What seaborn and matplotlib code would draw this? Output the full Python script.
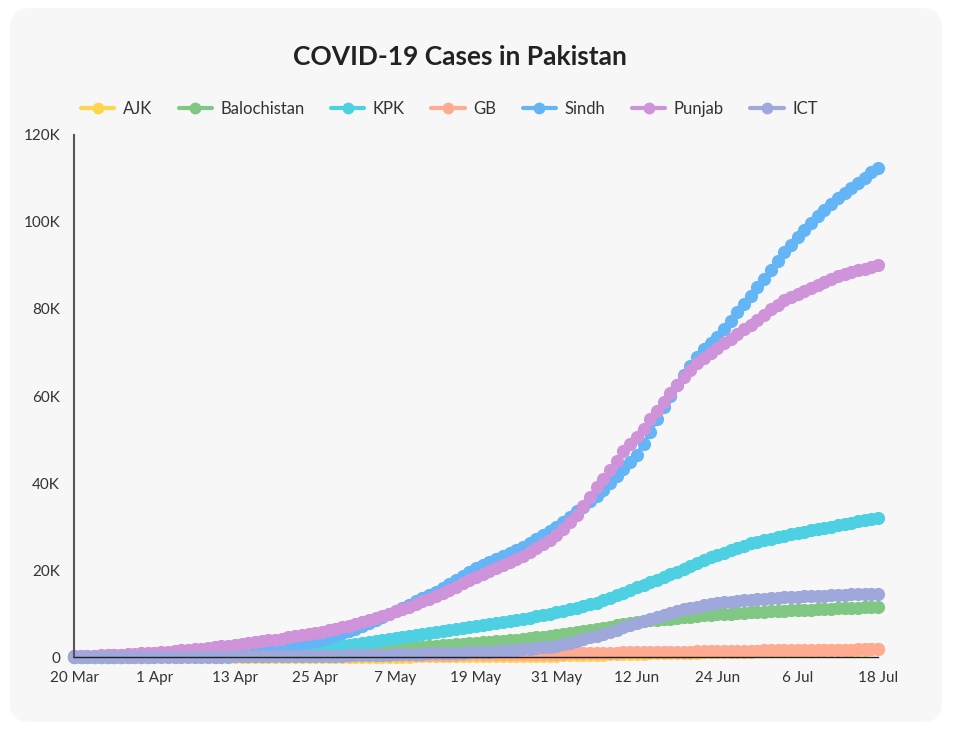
import matplotlib
matplotlib.use("Agg")
import matplotlib.pyplot as plt
import matplotlib.dates as mdates
from matplotlib.lines import Line2D
from matplotlib.patches import FancyBboxPatch
from matplotlib.transforms import IdentityTransform
import seaborn as sns
import pandas as pd

# daily confirmed cases (thousands), 20 Mar - 18 Jul 2020
dates = pd.date_range("2020-03-20", "2020-07-18", freq="D")

ajk = [0, 0, 0, 0, 0, 0,
       0.001, 0.001, 0.002, 0.002, 0.003, 0.006,
       0.009, 0.012, 0.015, 0.018, 0.021, 0.026,
       0.03, 0.032, 0.034, 0.035, 0.037, 0.038,
       0.04, 0.042, 0.043, 0.045, 0.047, 0.048,
       0.05, 0.052, 0.053, 0.055, 0.057, 0.058,
       0.06, 0.062, 0.063, 0.065, 0.067, 0.068,
       0.07, 0.075, 0.08, 0.085, 0.09, 0.095,
       0.1, 0.11, 0.12, 0.13, 0.14, 0.14,
       0.15, 0.16, 0.17, 0.18, 0.19, 0.19,
       0.2, 0.21, 0.22, 0.23, 0.24, 0.24,
       0.25, 0.27, 0.28, 0.3, 0.32, 0.33,
       0.35, 0.38, 0.42, 0.45, 0.48, 0.52,
       0.55, 0.58, 0.62, 0.65, 0.68, 0.72,
       0.75, 0.78, 0.82, 0.85, 0.88, 0.92,
       0.95, 0.98, 1.0, 1.03, 1.05, 1.08,
       1.1, 1.13, 1.17, 1.2, 1.23, 1.27,
       1.3, 1.33, 1.35, 1.38, 1.4, 1.43,
       1.45, 1.48, 1.5, 1.53, 1.55, 1.58,
       1.6, 1.63, 1.67, 1.7, 1.73, 1.77,
       1.8]

balochistan = [0.01, 0.02, 0.02, 0.03, 0.04, 0.04,
               0.05, 0.06, 0.08, 0.09, 0.11, 0.12,
               0.13, 0.14, 0.15, 0.15, 0.16, 0.16,
               0.17, 0.18, 0.19, 0.21, 0.22, 0.23,
               0.24, 0.26, 0.29, 0.32, 0.35, 0.37,
               0.4, 0.47, 0.55, 0.64, 0.73, 0.81,
               0.9, 1.0, 1.1, 1.2, 1.3, 1.4,
               1.5, 1.58, 1.66, 1.75, 1.83, 1.92,
               2.0, 2.1, 2.2, 2.3, 2.4, 2.5,
               2.6, 2.7, 2.8, 2.95, 3.05, 3.2,
               3.3, 3.4, 3.5, 3.65, 3.75, 3.9,
               4.0, 4.15, 4.3, 4.5, 4.65, 4.85,
               5.0, 5.25, 5.5, 5.75, 6.0, 6.25,
               6.5, 6.75, 7.0, 7.25, 7.5, 7.75,
               8.0, 8.2, 8.4, 8.55, 8.7, 8.85,
               9.0, 9.15, 9.3, 9.4, 9.55, 9.7,
               9.8, 9.9, 10.0, 10.1, 10.2, 10.3,
               10.4, 10.45, 10.5, 10.6, 10.65, 10.7,
               10.8, 10.85, 10.9, 10.95, 11.0, 11.1,
               11.2, 11.25, 11.3, 11.35, 11.4, 11.45,
               11.5]

kpk = [0.02, 0.03, 0.05, 0.06, 0.08, 0.09,
       0.1, 0.12, 0.15, 0.18, 0.2, 0.22,
       0.25, 0.28, 0.3, 0.33, 0.35, 0.38,
       0.4, 0.46, 0.53, 0.6, 0.67, 0.73,
       0.8, 0.88, 0.96, 1.05, 1.13, 1.21,
       1.3, 1.41, 1.52, 1.64, 1.76, 1.88,
       2.0, 2.15, 2.3, 2.5, 2.65, 2.82,
       3.0, 3.2, 3.4, 3.6, 3.85, 4.05,
       4.3, 4.5, 4.75, 5.0, 5.2, 5.45,
       5.7, 5.95, 6.2, 6.45, 6.7, 6.95,
       7.2, 7.4, 7.6, 7.85, 8.05, 8.25,
       8.5, 8.75, 9.05, 9.35, 9.65, 10.0,
       10.3, 10.65, 11.0, 11.35, 11.75, 12.1,
       12.5, 13.0, 13.6, 14.2, 14.8, 15.4,
       16.0, 16.6, 17.2, 17.8, 18.4, 19.0,
       19.5, 20.2, 20.9, 21.6, 22.3, 22.9,
       23.5, 24.0, 24.6, 25.1, 25.6, 26.1,
       26.5, 26.9, 27.2, 27.6, 27.9, 28.2,
       28.5, 28.8, 29.1, 29.4, 29.7, 30.0,
       30.3, 30.6, 30.9, 31.2, 31.5, 31.7,
       31.9]

gb = [0.0, 0.0, 0.01, 0.01, 0.01, 0.02,
      0.02, 0.04, 0.06, 0.08, 0.1, 0.12,
      0.13, 0.15, 0.16, 0.17, 0.18, 0.19,
      0.2, 0.2, 0.21, 0.21, 0.21, 0.22,
      0.22, 0.22, 0.23, 0.23, 0.24, 0.24,
      0.25, 0.26, 0.27, 0.27, 0.28, 0.29,
      0.3, 0.31, 0.32, 0.33, 0.34, 0.35,
      0.36, 0.38, 0.39, 0.41, 0.42, 0.44,
      0.45, 0.47, 0.48, 0.5, 0.52, 0.53,
      0.55, 0.56, 0.57, 0.58, 0.6, 0.61,
      0.62, 0.63, 0.65, 0.66, 0.67, 0.69,
      0.7, 0.71, 0.72, 0.73, 0.74, 0.74,
      0.75, 0.78, 0.82, 0.85, 0.88, 0.92,
      0.95, 0.98, 1.0, 1.03, 1.05, 1.08,
      1.1, 1.12, 1.13, 1.15, 1.17, 1.18,
      1.2, 1.23, 1.25, 1.28, 1.3, 1.33,
      1.35, 1.38, 1.4, 1.43, 1.45, 1.48,
      1.5, 1.52, 1.53, 1.55, 1.57, 1.58,
      1.6, 1.62, 1.63, 1.65, 1.67, 1.68,
      1.7, 1.72, 1.73, 1.75, 1.77, 1.78,
      1.8]

sindh = [0.2, 0.23, 0.26, 0.3, 0.33, 0.37,
         0.4, 0.45, 0.5, 0.55, 0.6, 0.65,
         0.7, 0.73, 0.76, 0.8, 0.83, 0.87,
         0.9, 0.97, 1.05, 1.13, 1.22, 1.3,
         1.4, 1.52, 1.65, 1.8, 1.93, 2.05,
         2.2, 2.4, 2.6, 2.85, 3.1, 3.35,
         3.6, 4.0, 4.5, 5.0, 5.5, 6.0,
         6.5, 7.1, 7.8, 8.5, 9.2, 9.9,
         10.5, 11.2, 12.0, 12.8, 13.5, 14.2,
         15.0, 15.9, 16.8, 17.7, 18.6, 19.5,
         20.5, 21.2, 21.9, 22.6, 23.2, 23.8,
         24.5, 25.4, 26.3, 27.2, 28.1, 29.0,
         30.0, 31.1, 32.3, 33.5, 34.6, 35.8,
         37.0, 38.5, 40.0, 41.6, 43.2, 44.8,
         46.5, 49.0, 51.8, 54.6, 57.4, 60.0,
         62.5, 64.8, 67.0, 69.0, 70.8, 72.2,
         73.5, 75.4, 77.3, 79.2, 81.1, 83.0,
         85.0, 87.0, 89.0, 91.0, 93.0, 94.8,
         96.5, 98.1, 99.7, 101.3, 102.8, 104.2,
         105.5, 106.7, 107.9, 109.0, 110.2, 111.4,
         112.5]

punjab = [0.2, 0.25, 0.3, 0.35, 0.4, 0.45,
          0.5, 0.58, 0.66, 0.75, 0.83, 0.92,
          1.0, 1.12, 1.25, 1.4, 1.55, 1.68,
          1.8, 1.95, 2.1, 2.3, 2.45, 2.62,
          2.8, 3.0, 3.2, 3.4, 3.6, 3.8,
          4.0, 4.25, 4.5, 4.75, 5.0, 5.25,
          5.5, 5.8, 6.1, 6.5, 6.8, 7.1,
          7.5, 8.0, 8.5, 9.0, 9.5, 10.0,
          10.5, 11.0, 11.6, 12.2, 12.8, 13.4,
          14.0, 14.7, 15.4, 16.2, 17.0, 17.8,
          18.5, 19.1, 19.7, 20.4, 21.1, 21.8,
          22.5, 23.3, 24.2, 25.1, 26.0, 27.0,
          28.0, 29.5, 31.0, 32.7, 34.8, 36.8,
          39.0, 41.0, 43.0, 45.0, 47.3, 49.0,
          50.5, 52.5, 54.6, 56.6, 58.6, 60.6,
          62.5, 64.3, 66.0, 67.5, 68.8, 70.0,
          71.0, 72.1, 73.2, 74.3, 75.3, 76.4,
          77.5, 78.7, 79.9, 81.0, 82.0, 82.8,
          83.5, 84.2, 84.9, 85.6, 86.3, 86.9,
          87.5, 88.0, 88.5, 88.9, 89.3, 89.6,
          90.0]

ict = [0.0, 0.0, 0.0, 0.0, 0.01, 0.01,
       0.01, 0.02, 0.02, 0.03, 0.04, 0.05,
       0.05, 0.06, 0.06, 0.07, 0.07, 0.08,
       0.08, 0.09, 0.1, 0.11, 0.12, 0.12,
       0.13, 0.14, 0.15, 0.16, 0.17, 0.19,
       0.2, 0.21, 0.22, 0.23, 0.24, 0.24,
       0.25, 0.27, 0.3, 0.32, 0.35, 0.37,
       0.4, 0.43, 0.47, 0.5, 0.53, 0.57,
       0.6, 0.65, 0.7, 0.75, 0.8, 0.85,
       0.9, 0.93, 0.97, 1.0, 1.03, 1.07,
       1.1, 1.18, 1.26, 1.35, 1.43, 1.51,
       1.6, 1.75, 1.9, 2.05, 2.2, 2.4,
       2.6, 2.9, 3.3, 3.7, 4.1, 4.5,
       4.8, 5.3, 5.8, 6.3, 6.8, 7.3,
       7.8, 8.3, 8.8, 9.3, 9.7, 10.2,
       10.6, 10.95, 11.3, 11.6, 11.9, 12.15,
       12.4, 12.6, 12.75, 12.9, 13.05, 13.2,
       13.3, 13.4, 13.5, 13.6, 13.7, 13.8,
       13.9, 13.95, 14.0, 14.05, 14.1, 14.2,
       14.3, 14.35, 14.4, 14.45, 14.5, 14.55,
       14.6]

regions = ["AJK", "Balochistan", "KPK", "GB", "Sindh", "Punjab", "ICT"]
colors = ["#FFD54F", "#81C784", "#4DD0E1", "#FFAB91", "#64B5F6", "#CE93D8", "#9FA8DA"]
series = [ajk, balochistan, kpk, gb, sindh, punjab, ict]
tick_labels = ["0", "20K", "40K", "60K", "80K", "100K", "120K"]

rows = []
for name, vals in zip(regions, series):
    for d, v in zip(dates, vals):
        rows.append({"date": d, "cases": v, "region": name})
df = pd.DataFrame(rows)

sns.set_style("white")
plt.rcParams["font.family"] = ["Lato", "DejaVu Sans"]

fig = plt.figure(figsize=(9.7, 7.36), dpi=100)
fig.patch.set_facecolor("white")
bg = FancyBboxPatch((10, 14), 932, 714, boxstyle="round,pad=0,rounding_size=20",
                    transform=IdentityTransform(), facecolor="#F7F7F7",
                    edgecolor="none", zorder=-10)
fig.patches.append(bg)

ax = fig.add_axes([0.0763, 0.1073, 0.8289, 0.7093])
ax.set_facecolor("none")
ax.set_zorder(1)

sns.lineplot(data=df, x="date", y="cases", hue="region", hue_order=regions,
             palette=colors, marker="o", markersize=9.5, markeredgewidth=0,
             linewidth=3, legend=False, ax=ax)
for line in ax.lines:
    line.set_clip_on(False)

ax.set_xlim(dates[0], dates[-1])
ax.set_ylim(0, 120)
ax.set_xticks(dates[::12])
ax.xaxis.set_major_formatter(mdates.DateFormatter("%-d %b"))
ax.set_yticks(range(0, 121, 20))
ax.set_yticklabels(tick_labels)
ax.tick_params(length=0, labelsize=11, colors="#333333")
ax.tick_params(axis="y", pad=10)
ax.tick_params(axis="x", pad=10)
ax.set_xlabel("")
ax.set_ylabel("")

sns.despine(ax=ax)
ax.spines["left"].set_color("#555555")
ax.spines["left"].set_linewidth(1.5)
ax.spines["bottom"].set_color("#222222")
ax.spines["bottom"].set_linewidth(1)

handles = [Line2D([], [], color=c, marker="o", markersize=8.5, linewidth=3,
                  markeredgewidth=0) for c in colors]
fig.legend(handles, regions, loc="center left", bbox_to_anchor=(0.068, 0.852),
           ncol=7, frameon=False, fontsize=12, handlelength=2.0,
           handletextpad=0.5, columnspacing=1.6, labelcolor="#333333")

fig.text(0.474, 0.923, "COVID-19 Cases in Pakistan", ha="center", va="center",
         fontsize=19, fontweight="bold", color="#222222")

fig.savefig("out.png", dpi=100, facecolor=fig.get_facecolor())
